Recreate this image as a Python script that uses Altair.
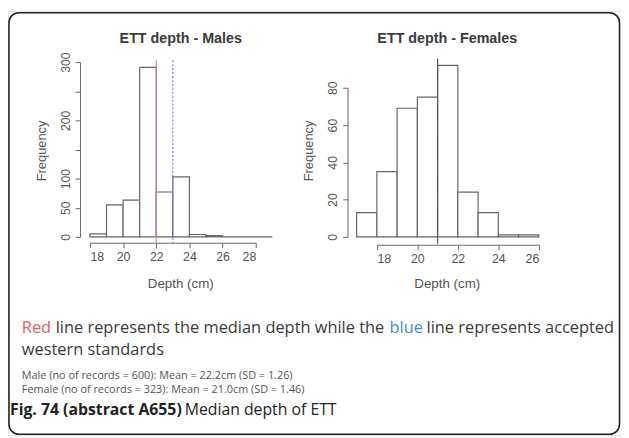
import altair as alt
import pandas as pd

# ---------------- data ----------------
male_bins = [18, 19, 20, 21, 22, 23, 24, 25, 26, 27, 28]
male_counts = [5, 55, 63, 291, 77, 103, 4, 2, 0, 0, 0]
female_bins = [17, 18, 19, 20, 21, 22, 23, 24, 25]
female_counts = [13, 35, 69, 75, 92, 24, 13, 1, 1]

male_xticks = [18, 20, 22, 24, 26, 28]
male_yticks = [0, 50, 100, 150, 200, 250, 300]
female_xticks = [18, 20, 22, 24, 26]
female_yticks = [0, 20, 40, 60, 80]

male_median = [22]
male_standard = [23]
female_median = [21]
male_line_span = [-12, 303]
female_line_span = [-3.7, 95.7]

male_title = "ETT depth - Males"
female_title = "ETT depth - Females"
x_title = "Depth (cm)"
y_title = "Frequency"
note_red = "Red"
note_mid = "line represents the median depth while the"
note_blue = "blue"
note_end = "line represents accepted"
note_line2 = "western standards"
stat_male = "Male (no of records = 600): Mean = 22.2cm (SD = 1.26)"
stat_female = "Female (no of records = 323): Mean =  21.0cm (SD = 1.46)"
cap_bold = "Fig. 74 (abstract A655)"
cap_rest = "Median depth of ETT"

W, H = 621, 430
AX = "#666666"
TXT = "#555555"
RFONT = "Liberation Sans"

male_df = pd.DataFrame({"start": male_bins, "end": [b + 1 for b in male_bins],
                        "count": male_counts, "base": [0] * len(male_bins)})
female_df = pd.DataFrame({"start": female_bins, "end": [b + 1 for b in female_bins],
                          "count": female_counts, "base": [0] * len(female_bins)})


def axis_common(**kw):
    return alt.Axis(grid=False, title=None, domainColor=AX, tickColor=AX, tickSize=5,
                    labelColor=TXT, labelFont=RFONT, labelFontSize=12.5, domainWidth=1,
                    tickWidth=1, format="d", **kw)


def panel(df, bins_scale, count_scale, xticks, yticks, x_off, y_off, label_expr, lines, span):
    bars = alt.Chart(df).mark_rect(fill="white", stroke=AX, strokeWidth=1.2).encode(
        x=alt.X("start:Q", scale=bins_scale,
                axis=axis_common(values=xticks, orient="bottom", offset=x_off, labelPadding=3)),
        x2="end:Q",
        y=alt.Y("count:Q", scale=count_scale,
                axis=axis_common(values=yticks, orient="left", offset=y_off, labelAngle=270,
                                 labelAlign="center", labelBaseline="bottom", labelPadding=3,
                                 labelExpr=label_expr)),
        y2="base:Q",
    )
    layers = [bars]
    for xs, color, dash in lines:
        ldf = pd.DataFrame({"x": xs, "y1": [span[0]] * len(xs), "y2": [span[1]] * len(xs)})
        rule = alt.Chart(ldf).mark_rule(color=color, strokeWidth=1.2, strokeDash=dash).encode(
            x=alt.X("x:Q", scale=bins_scale, title=None),
            y=alt.Y("y1:Q", scale=count_scale, title=None),
            y2="y2:Q",
        )
        layers.append(rule)
    return alt.layer(*layers)


male_x = alt.Scale(domain=[18, 28], range=[83, 251], nice=False, zero=False)
male_y = alt.Scale(domain=[0, 300], range=[229, 52], nice=False, zero=False)
female_x = alt.Scale(domain=[18, 26], range=[373.7, 537.7], nice=False, zero=False)
female_y = alt.Scale(domain=[0, 80], range=[229, 78], nice=False, zero=False)

male = panel(male_df, male_x, male_y, male_xticks, male_yticks, 235 - H, -73,
             "datum.value == 150 || datum.value == 250 ? '' : datum.label",
             [(male_median, "#c98f8f", [1, 0]), (male_standard, "#8088bb", [2, 2])],
             male_line_span)
female = panel(female_df, female_x, female_y, female_xticks, female_yticks, 237 - H, -344,
               "datum.label",
               [(female_median, "#555566", [1, 0])], female_line_span)

one = alt.Data(values=[{"k": 0}])


def label(text, x, y, size, color=TXT, weight="normal", font=RFONT, align="center", angle=0):
    kw = dict(text=text, fontSize=size, color=color, fontWeight=weight, font=font,
              align=align, baseline="middle")
    if angle:
        kw["angle"] = angle
    return alt.Chart(one).mark_text(**kw).encode(x=alt.value(x), y=alt.value(y))


NF = "Open Sans"
NOTE = 16.6
DARK = "#3a3a3a"
texts = [
    label(male_title, 175, 29, 14.5, color="#3a3a3a", weight="bold"),
    label(female_title, 445, 29, 14.5, color="#3a3a3a", weight="bold"),
    label(y_title, 34, 142, 13, angle=270),
    label(y_title, 305, 142, 13, angle=270),
    label(x_title, 175, 277, 13.5),
    label(x_title, 445, 277, 13.5),
    label(note_red, 14, 321.5, NOTE, color="#e06262", font=NF, align="left"),
    label(note_mid, 48.3, 321.5, NOTE, color=DARK, font=NF, align="left"),
    label(note_blue, 386.5, 321.5, NOTE, color="#3f8fc4", font=NF, align="left"),
    label(note_end, 614, 321.5, NOTE, color=DARK, font=NF, align="right"),
    label(note_line2, 14, 344, NOTE, color=DARK, font=NF, align="left"),
    label(stat_male, 14, 370, 11, color="#555555", font=NF, align="left"),
    label(stat_female, 14, 384, 11, color="#555555", font=NF, align="left"),
    label(cap_bold, 2, 404, 16, color="#222222", weight="bold", font=NF, align="left"),
    label(cap_rest, 179, 404, 16, color="#222222", font=NF, align="left"),
]

border = alt.Chart(one).mark_rect(cornerRadius=10, fillOpacity=0, stroke="#222222",
                                  strokeWidth=1.6).encode(
    x=alt.value(1), x2=alt.value(619.5), y=alt.value(2), y2=alt.value(429))

chart = alt.layer(border, male, female, *texts).resolve_scale(
    x="independent", y="independent").resolve_axis(x="independent", y="independent").properties(
    width=W, height=H, padding=0, autosize=alt.AutoSizeParams(type="none")
).configure_view(stroke=None).configure(background="white")

chart.save("out.html", embed_options={"renderer": "svg", "actions": False})
